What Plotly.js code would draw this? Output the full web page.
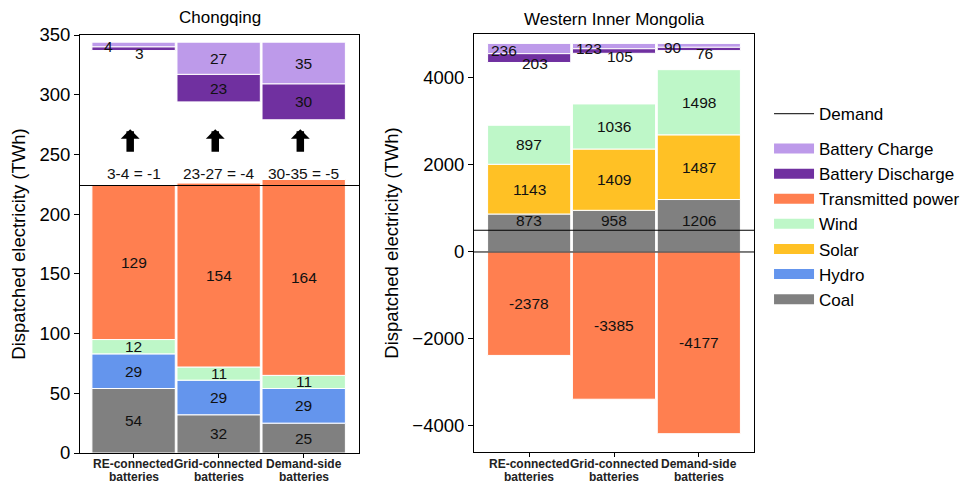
<!DOCTYPE html>
<html>
<head>
<meta charset="utf-8">
<script src="https://cdn.plot.ly/plotly-3.0.1.min.js"></script>
<style>
  html, body { margin: 0; padding: 0; background: #fff; }
  #chart { width: 971px; height: 484px; }
</style>
</head>
<body>
<div id="chart"></div>
<script>
// Battery placement scenarios (x categories, two lines each)
const categories = [['RE-connected', 'batteries'], ['Grid-connected', 'batteries'], ['Demand-side', 'batteries']];

// Chongqing, dispatched electricity (TWh)
const cqCoal = [54, 32, 25];
const cqHydro = [29, 29, 29];
const cqWind = [12, 11, 11];
const cqTransmitted = [129, 154, 164];
const cqCharge = [4, 27, 35];
const cqDischarge = [3, 23, 30];
const cqDemand = 224;

// Western Inner Mongolia, dispatched electricity (TWh)
const imCoal = [873, 958, 1206];
const imSolar = [1143, 1409, 1487];
const imWind = [897, 1036, 1498];
const imTransmitted = [-2378, -3385, -4177];
const imCharge = [236, 123, 90];
const imDischarge = [203, 105, 76];
const imDemand = 500;

const COLORS = {
  charge: '#BD9AEA',
  discharge: '#7030A0',
  transmitted: '#FF7F50',
  wind: '#BEF7C8',
  solar: '#FFC125',
  hydro: '#6495ED',
  coal: '#808080'
};

const FONT = 'Liberation Sans, Arial, Helvetica, sans-serif';
const xs = categories.map((_, i) => i);
const traces = [];
const annotations = [];
const shapes = [];

function add(arr, other) { return arr.map((v, i) => v + other[i]); }

// one stacked segment per category, drawn from explicit bases
function segment(panel, values, bases, color, labelMode) {
  traces.push({
    type: 'bar', x: xs, y: values, base: bases,
    xaxis: panel.xa, yaxis: panel.ya, width: 0.98,
    marker: { color: color, line: { color: '#ffffff', width: 1 } },
    showlegend: false, hoverinfo: 'skip'
  });
  const span = panel.range[1] - panel.range[0];
  values.forEach((v, i) => {
    if (!v) return;
    const mid = bases[i] + v / 2;
    const ann = {
      xref: panel.xa, yref: panel.ya, x: i, y: mid, text: String(v),
      showarrow: false, font: { family: FONT, size: 15.5, color: '#111' }
    };
    if (labelMode && Math.abs(v) < 0.05 * span) {
      // thin battery bars: labels pushed aside
      if (labelMode === 'charge') { ann.x = i - 0.3; ann.yshift = -2; }
      else { ann.x = i + 0.07; ann.yshift = -5; }
    } else if (!labelMode && Math.abs(mid - panel.demand) < 0.08 * span) {
      // keep label clear of the demand line
      ann.y = panel.demand; ann.yshift = 10;
    }
    annotations.push(ann);
  });
}

function battery(panel, charge, discharge) {
  const chargeBase = charge.map(c => panel.batteryTop - c);
  const dischargeBase = chargeBase.map((b, i) => b - discharge[i]);
  segment(panel, charge, chargeBase, COLORS.charge, 'charge');
  segment(panel, discharge, dischargeBase, COLORS.discharge, 'discharge');
}

function demandLine(panel) {
  shapes.push({
    type: 'line', xref: panel.xa + ' domain', yref: panel.ya,
    x0: 0, x1: 1, y0: panel.demand, y1: panel.demand,
    line: { color: '#000', width: 1.2 }, layer: 'above'
  });
}

// category labels under each panel, set tight in two lines
function categoryLabels(panel) {
  categories.forEach((lines, i) => {
    lines.forEach((line, k) => {
      annotations.push({
        xref: panel.xa, yref: 'paper', x: i, y: 1 - (464 + 12.5 * k) / 484, yanchor: 'middle',
        text: '<b>' + line + '</b>', showarrow: false, borderpad: 0,
        font: { family: FONT, size: 12, color: '#222' }
      });
    });
  });
}

const cq = { xa: 'x', ya: 'y', range: [0, 350], demand: cqDemand, batteryTop: 344 };
const im = { xa: 'x2', ya: 'y2', range: [-4598, 5011], demand: imDemand, batteryTop: 4795 };

// Chongqing stack: coal, hydro, wind, transmitted power
const zeros = [0, 0, 0];
segment(cq, cqCoal, zeros, COLORS.coal);
segment(cq, cqHydro, cqCoal, COLORS.hydro);
const cqBelowWind = add(cqCoal, cqHydro);
segment(cq, cqWind, cqBelowWind, COLORS.wind);
segment(cq, cqTransmitted, add(cqBelowWind, cqWind), COLORS.transmitted);
battery(cq, cqCharge, cqDischarge);
demandLine(cq);
categoryLabels(cq);

// net battery balance and the arrows above the demand line
cqCharge.forEach((c, i) => {
  const d = cqDischarge[i];
  annotations.push({
    xref: 'x', yref: 'y', x: i, y: cqDemand, yshift: 12,
    text: d + '-' + c + ' = ' + (d - c), showarrow: false,
    font: { family: FONT, size: 15.5, color: '#111' }
  });
  annotations.push({
    xref: 'x', yref: 'y', axref: 'x', ayref: 'y',
    x: i - 0.04, y: cqDemand + 47, ax: i - 0.04, ay: cqDemand + 27,
    text: '', showarrow: true, arrowhead: 1, arrowsize: 0.42,
    arrowwidth: 7.5, arrowcolor: '#000'
  });
});

// Western Inner Mongolia stack: coal, solar, wind; exports below zero
segment(im, imCoal, zeros, COLORS.coal);
segment(im, imSolar, imCoal, COLORS.solar);
segment(im, imWind, add(imCoal, imSolar), COLORS.wind);
segment(im, imTransmitted, zeros, COLORS.transmitted);
battery(im, imCharge, imDischarge);
demandLine(im);
categoryLabels(im);
shapes.push({
  type: 'line', xref: 'x2 domain', yref: 'y2', x0: 0, x1: 1, y0: 0, y1: 0,
  line: { color: '#000', width: 1 }, layer: 'above'
});

// legend entries
traces.push({
  type: 'scatter', mode: 'lines', x: [null], y: [null], name: 'Demand',
  line: { color: '#333', width: 1.2 }, legend: 'legend', hoverinfo: 'skip'
});
[['Battery Charge', COLORS.charge], ['Battery Discharge', COLORS.discharge],
 ['Transmitted power', COLORS.transmitted], ['Wind', COLORS.wind],
 ['Solar', COLORS.solar], ['Hydro', COLORS.hydro], ['Coal', COLORS.coal]
].forEach(([name, color]) => {
  traces.push({
    type: 'scatter', mode: 'lines', x: [null], y: [null], name: name,
    line: { color: color, width: 10 }, legend: 'legend2', hoverinfo: 'skip'
  });
});

// subplot titles
annotations.push({
  xref: 'x domain', yref: 'paper', x: 0.5, y: 1 - 18 / 484, yanchor: 'middle',
  text: 'Chongqing', showarrow: false, font: { family: FONT, size: 17, color: '#000' }
});
annotations.push({
  xref: 'x2 domain', yref: 'paper', x: 0.5, y: 1 - 20 / 484, yanchor: 'middle',
  text: 'Western Inner Mongolia', showarrow: false, font: { family: FONT, size: 17, color: '#000' }
});

const xBase = {
  tickvals: xs, showticklabels: false, ticks: 'outside', ticklen: 4, tickcolor: '#000',
  showline: true, mirror: true, linecolor: '#000', linewidth: 1,
  showgrid: false, zeroline: false, fixedrange: true
};
const yBase = {
  ticks: 'outside', ticklen: 5, tickcolor: '#000',
  showline: true, mirror: true, linecolor: '#000', linewidth: 1,
  showgrid: false, zeroline: false, fixedrange: true,
  tickfont: { family: FONT, size: 18.5, color: '#000' },
  title: { text: 'Dispatched electricity (TWh)', font: { family: FONT, size: 18.5, color: '#000' }, standoff: 8 }
};

const layout = {
  width: 971, height: 484,
  margin: { l: 0, r: 0, t: 0, b: 0 },
  paper_bgcolor: '#fff', plot_bgcolor: '#fff',
  barmode: 'overlay',
  font: { family: FONT, color: '#000' },
  xaxis: Object.assign({}, xBase, { domain: [80 / 971, 359 / 971], range: [-0.63, 2.65], anchor: 'y' }),
  yaxis: Object.assign({}, yBase, { domain: [1 - 453 / 484, 1 - 35 / 484], range: cq.range, dtick: 50, anchor: 'x' }),
  xaxis2: Object.assign({}, xBase, { domain: [474 / 971, 754 / 971], range: [-0.65, 2.65], anchor: 'y2' }),
  yaxis2: Object.assign({}, yBase, { domain: [1 - 452 / 484, 1 - 34 / 484], range: im.range,
    tickvals: [-4000, -2000, 0, 2000, 4000], anchor: 'x2' }),
  legend: {
    x: 0.792, xanchor: 'left', y: 1 - 114 / 484, yanchor: 'middle',
    font: { family: FONT, size: 17, color: '#000' }, itemwidth: 40, bgcolor: 'rgba(0,0,0,0)'
  },
  legend2: {
    x: 0.792, xanchor: 'left', y: 1 - 131 / 484, yanchor: 'top',
    font: { family: FONT, size: 17, color: '#000' }, itemwidth: 40, bgcolor: 'rgba(0,0,0,0)'
  },
  annotations: annotations,
  shapes: shapes
};

Plotly.newPlot('chart', traces, layout, { displayModeBar: false, staticPlot: true });
</script>
</body>
</html>
